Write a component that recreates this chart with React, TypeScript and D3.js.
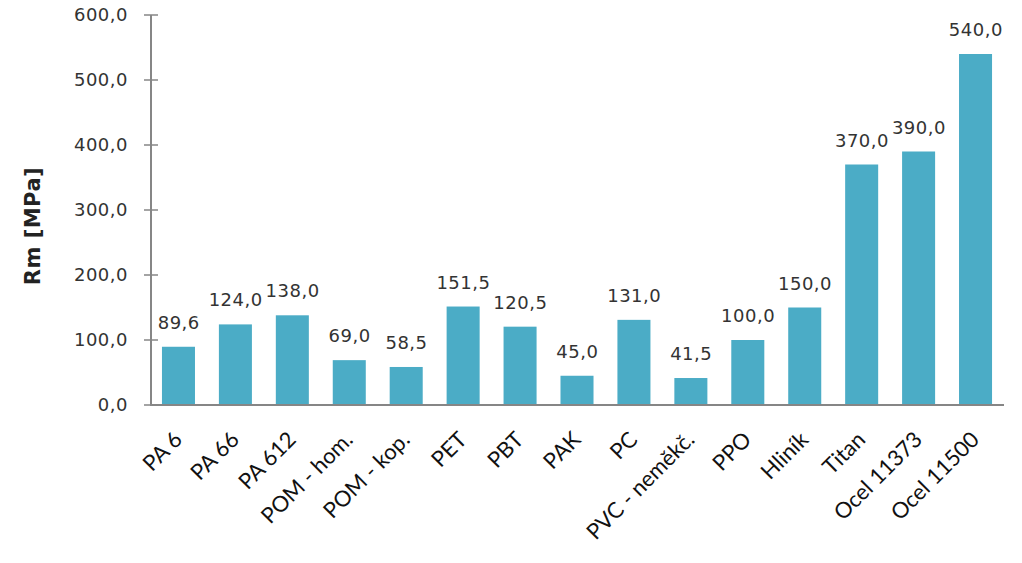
import React from "react";
import * as d3 from "d3";

const categories = [
  "PA 6", "PA 66", "PA 612", "POM - hom.", "POM - kop.", "PET", "PBT", "PAK", "PC",
  "PVC - neměkč.", "PPO", "Hliník", "Titan", "Ocel 11373", "Ocel 11500",
];
const values = [89.6, 124.0, 138.0, 69.0, 58.5, 151.5, 120.5, 45.0, 131.0, 41.5, 100.0, 150.0, 370.0, 390.0, 540.0];
const yTicks = [0, 100, 200, 300, 400, 500, 600];
const yTitle = "Rm [MPa]";

const W = 1022;
const H = 563;
const fmt = (v: number) => v.toFixed(1).replace(".", ",");

export default function App() {
  const x = d3.scaleBand<string>().domain(categories).range([150, 1004]).paddingInner(0.42).paddingOuter(0.21);
  const y = d3.scaleLinear().domain([0, 600]).range([405, 15]);
  const axisColor = "#868686";
  const textColor = "#333333";
  const barColor = "#4bacc6";
  const valFont = "'DejaVu Sans', Verdana, sans-serif";
  const catFont = "Lato, 'Open Sans', sans-serif";

  return (
    <svg width={W} height={H} style={{ position: "absolute", left: 0, top: 0, background: "#fff" }}>
      {categories.map((c, i) => (
        <rect key={c} x={x(c)!} y={y(values[i])} width={x.bandwidth()} height={y(0) - y(values[i])} fill={barColor} />
      ))}
      {categories.map((c, i) => (
        <text
          key={"v" + c}
          x={x(c)! + x.bandwidth() / 2 + 0.3}
          y={y(values[i]) - 18}
          textAnchor="middle"
          fontFamily={valFont}
          fontSize={18}
          letterSpacing={0.5}
          fill={textColor}
        >
          {fmt(values[i])}
        </text>
      ))}
      <line x1={151} x2={151} y1={y(600)} y2={y(0)} stroke={axisColor} strokeWidth={2} />
      {yTicks.map((t) => (
        <g key={t}>
          <line x1={144} x2={158} y1={y(t)} y2={y(t)} stroke={axisColor} strokeWidth={1.5} />
          <text
            x={128}
            y={y(t)}
            dy="0.36em"
            textAnchor="end"
            fontFamily={valFont}
            fontSize={18}
            letterSpacing={0.5}
            fill={textColor}
          >
            {fmt(t)}
          </text>
        </g>
      ))}
      <line x1={150} x2={1004} y1={y(0)} y2={y(0)} stroke={axisColor} strokeWidth={2} />
      {categories.map((c) => {
        const cx = x(c)! + x.bandwidth() / 2;
        return (
          <text
            key={"c" + c}
            transform={`translate(${cx + 5},${441}) rotate(-45)`}
            textAnchor="end"
            fontFamily={catFont}
            fontSize={22}
            fill="#111"
          >
            {c}
          </text>
        );
      })}
      <text
        transform={`translate(40,226) rotate(-90)`}
        textAnchor="middle"
        fontFamily={valFont}
        fontWeight="bold"
        fontSize={21}
        letterSpacing={0.5}
        fill="#222"
      >
        {yTitle}
      </text>
    </svg>
  );
}
